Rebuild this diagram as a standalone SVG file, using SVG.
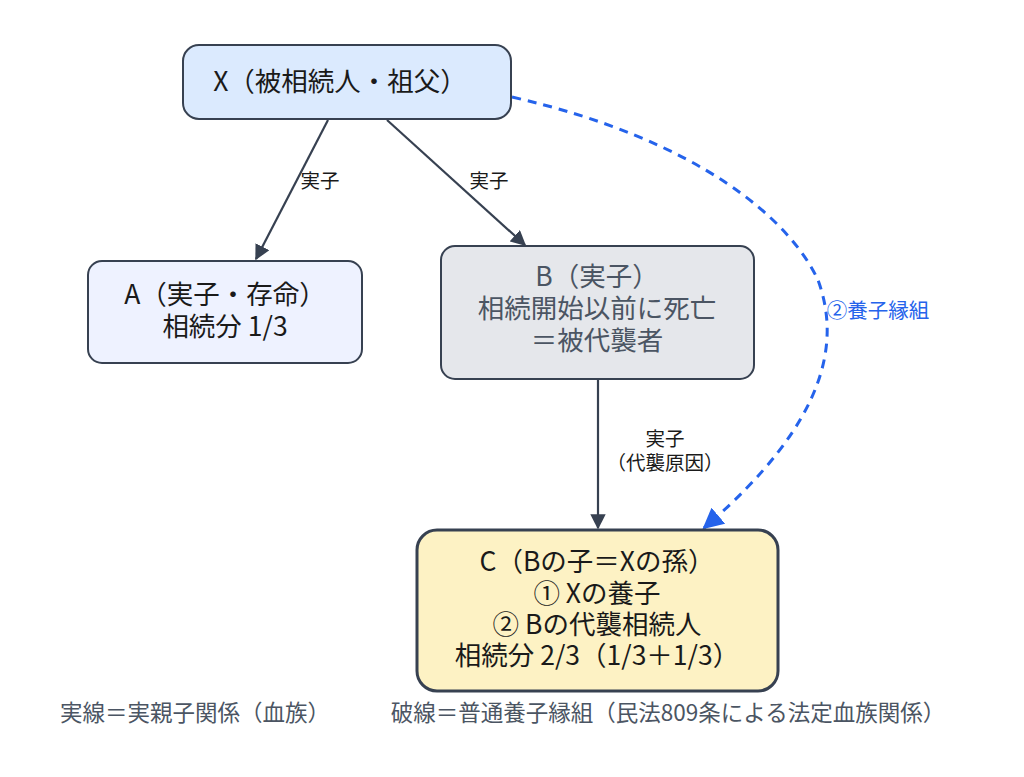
<svg xmlns="http://www.w3.org/2000/svg" width="1024" height="777" viewBox="0 0 1024 777">
<style>
text{font-family:"Noto Sans CJK JP","Noto Sans",sans-serif;text-anchor:middle}
.n{font-size:26.5px;fill:#1a1a1a}
.l{font-size:19.5px;fill:#1a1a1a}
.e{stroke:#374151;stroke-width:2.2;fill:none}
.f{font-size:22.5px;fill:#4b5563}
</style>
<defs>
<marker id="a" viewBox="0 0 10 10" refX="9" refY="5" markerWidth="7" markerHeight="7" orient="auto-start-reverse"><path d="M0,0L10,5L0,10z" fill="#374151"/></marker>
<marker id="b" viewBox="0 0 10 10" refX="9" refY="5" markerWidth="7" markerHeight="7" orient="auto-start-reverse"><path d="M0,0L10,5L0,10z" fill="#2563eb"/></marker>
</defs>
<rect width="1024" height="777" fill="#fff"/>
<g id="edges">
<path class="e" d="M328,120L256,259" marker-end="url(#a)"/>
<path class="e" d="M387,120L525,245" marker-end="url(#a)"/>
<path class="e" d="M598,380L598,528" marker-end="url(#a)"/>
<path d="M512,97C700,140 790,220 818,280C840,340 830,420 704,528" fill="none" stroke="#2563eb" stroke-width="3" stroke-dasharray="9,7" marker-end="url(#b)"/>
<text class="l" x="320" y="188">実子</text>
<text class="l" x="489" y="188">実子</text>
<text class="l" x="665" y="446">実子</text>
<text class="l" x="665" y="470">（代襲原因）</text>
<text x="878" y="318" style="font-size:20.5px;fill:#2563eb">②養子縁組</text>
</g>
<g id="X"><rect x="183" y="45" width="328" height="74" rx="16" fill="#dbeafe" stroke="#374151" stroke-width="2"/><text class="n" x="340" y="91">X（被相続人・祖父）</text></g>
<g id="A"><rect x="88" y="261" width="274" height="102" rx="14" fill="#eef2ff" stroke="#374151" stroke-width="2"/><text class="n" x="225" y="304">A（実子・存命）</text><text class="n" x="225" y="336">相続分 1/3</text></g>
<g id="B"><rect x="441" y="246" width="313" height="133" rx="14" fill="#e5e7eb" stroke="#374151" stroke-width="2"/><text class="n" x="597" y="286" style="fill:#4b5563">B（実子）</text><text class="n" x="597" y="318" style="fill:#4b5563">相続開始以前に死亡</text><text class="n" x="597" y="350" style="fill:#4b5563">＝被代襲者</text></g>
<g id="C"><rect x="417" y="530" width="361" height="161" rx="20" fill="#fdf2c4" stroke="#374151" stroke-width="3"/><text class="n" x="597" y="571">C（Bの子＝Xの孫）</text><text class="n" x="597" y="603">① Xの養子</text><text class="n" x="597" y="634">② Bの代襲相続人</text><text class="n" x="597" y="665">相続分 2/3（1/3＋1/3）</text></g>
<text class="f" x="195" y="721">実線＝実親子関係（血族）</text>
<text class="f" x="668" y="721">破線＝普通養子縁組（民法809条による法定血族関係）</text>
</svg>
